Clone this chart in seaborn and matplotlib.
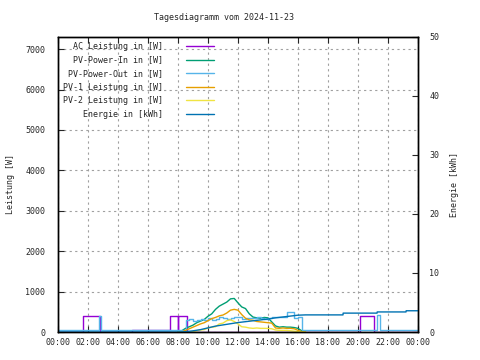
import matplotlib
matplotlib.use('Agg')
import matplotlib.pyplot as plt
import seaborn as sns

sns.set_style('ticks')
plt.rcParams['font.family'] = ['DejaVu Sans Mono']
plt.rcParams['font.size'] = 6

# --- data (hours of day, W / kWh) ---
ac_t = [0.0, 1.67, 2.80, 4.90, 7.47, 7.97, 8.03, 8.60, 20.13, 21.07, 24.0]
ac_w = [0, 400, 0, 40, 400, 40, 400, 0, 400, 0, 0]

day_t = [8.0, 8.25, 8.5, 8.75, 9.0, 9.25, 9.5, 9.75, 10.0, 10.25, 10.5, 10.75,
         11.0, 11.25, 11.5, 11.75, 12.0, 12.25, 12.5, 12.75, 13.0, 13.25, 13.5,
         13.75, 14.0, 14.25, 14.5, 14.75, 15.0, 15.25, 15.5, 15.75, 16.0, 16.25, 16.5]
pv_in_w = [0, 30, 90, 130, 170, 230, 270, 310, 390, 450, 560, 640,
           690, 740, 820, 830, 720, 620, 580, 450, 370, 350, 340,
           360, 350, 250, 150, 120, 130, 120, 120, 110, 90, 30, 0]
pv1_w = [0, 0, 40, 80, 120, 160, 200, 230, 280, 330, 360, 400,
         420, 470, 540, 560, 540, 430, 340, 300, 290, 260, 250,
         240, 230, 220, 100, 90, 100, 90, 90, 80, 40, 10, 0]
pv2_w = [0, 0, 0, 0, 10, 30, 50, 60, 100, 120, 130, 200,
         220, 280, 300, 260, 200, 130, 120, 100, 90, 100, 90,
         90, 90, 80, 50, 40, 40, 40, 30, 20, 10, 0, 0]

out_t = [0.0, 2.73, 2.87, 8.5, 8.75, 9.0, 9.25, 9.5, 9.75, 10.0, 10.25, 10.5,
         10.75, 11.0, 11.25, 11.5, 11.75, 12.0, 12.25, 12.5, 12.75, 13.0, 13.25,
         13.5, 13.75, 14.0, 14.25, 14.5, 14.75, 15.0, 15.25, 15.5, 15.75, 16.0,
         16.27, 21.27, 21.47, 24.0]
out_w = [60, 400, 60, 300, 320, 280, 300, 330, 290, 340, 300, 320,
         370, 350, 330, 340, 370, 360, 330, 350, 340, 350, 360,
         340, 330, 350, 360, 380, 370, 360, 500, 490, 340, 360,
         60, 420, 60, 60]

energy_t = [0.0, 8.0, 8.5, 9.0, 9.5, 10.0, 10.5, 11.0, 11.5, 12.0, 12.5, 13.0,
            13.5, 14.0, 14.5, 15.0, 15.5, 16.0, 16.5, 19.0, 19.01, 21.27, 21.28,
            23.2, 23.21, 24.0]
energy_kwh = [0, 0, 0.05, 0.2, 0.4, 0.7, 1.0, 1.2, 1.4, 1.6, 1.75, 1.9,
              2.05, 2.2, 2.4, 2.55, 2.7, 2.85, 2.9, 2.9, 3.2, 3.2, 3.4,
              3.4, 3.6, 3.6]

hour_ticks = [0, 2, 4, 6, 8, 10, 12, 14, 16, 18, 20, 22, 24]
hour_labels = ['00:00', '02:00', '04:00', '06:00', '08:00', '10:00', '12:00',
               '14:00', '16:00', '18:00', '20:00', '22:00', '00:00']

labels = ['AC Leistung in [W]', 'PV-Power-In in [W]', 'PV-Power-Out in [W]',
          'PV-1 Leistung in [W]', 'PV-2 Leistung in [W]', 'Energie in [kWh]']

c_ac, c_in, c_out = '#9400d3', '#009e73', '#56b4e9'
c_pv1, c_pv2, c_en = '#e69f00', '#f0e442', '#0072b2'

fig = plt.figure(figsize=(4.8, 3.6), dpi=100)
ax = fig.add_axes([58 / 480, 28 / 360, 360 / 480, 295 / 360])
ax2 = ax.twinx()

# monospace font: right-align legend texts by padding
width = max(len(s) for s in labels)
lab = [s.rjust(width) for s in labels]

lw = 1.0
sns.lineplot(x=ac_t, y=ac_w, drawstyle='steps-post', color=c_ac, lw=lw, ax=ax,
             label=lab[0])
sns.lineplot(x=day_t, y=pv_in_w, color=c_in, lw=lw, ax=ax, label=lab[1])
sns.lineplot(x=out_t, y=out_w, drawstyle='steps-post', color=c_out, lw=lw, ax=ax,
             label=lab[2])
sns.lineplot(x=day_t, y=pv1_w, color=c_pv1, lw=lw, ax=ax, label=lab[3])
sns.lineplot(x=day_t, y=pv2_w, color=c_pv2, lw=lw, ax=ax, label=lab[4])
sns.lineplot(x=energy_t, y=energy_kwh, color=c_en, lw=lw, ax=ax2, label=lab[5])

if ax.get_legend() is not None:
    ax.get_legend().remove()

ax.set_xlim(0, 24)
ax.set_ylim(0, 7300)
ax2.set_ylim(0, 50)
ax.set_xticks(hour_ticks)
ax.set_xticklabels(hour_labels)
ax.set_yticks([0, 1000, 2000, 3000, 4000, 5000, 6000, 7000])
ax2.set_yticks([0, 10, 20, 30, 40, 50])

ax.grid(True, color='#a0a0a0', linestyle=(0, (2, 3)), lw=0.8)
ax.tick_params(axis='x', direction='in', length=4, top=True, pad=4)
ax.tick_params(axis='y', direction='in', length=4, pad=9)
ax2.tick_params(axis='y', direction='in', length=4, pad=8)
for a in (ax, ax2):
    for s in a.spines.values():
        s.set_color('black')
        s.set_linewidth(1.0)

ax.set_ylabel('Leistung [W]')
ax2.set_ylabel('Energie [kWh]')
ax.yaxis.set_label_coords(-0.12, 0.5)
ax2.yaxis.set_label_coords(1.09, 0.5)
fig.text(223.5 / 480, 1 - 18 / 360, 'Tagesdiagramm vom 2024-11-23',
         ha='center', va='center', fontsize=6)

h1, l1 = ax.get_legend_handles_labels()
h2, l2 = ax2.get_legend_handles_labels()
leg = ax2.legend(h1 + h2, l1 + l2, loc='upper left', bbox_to_anchor=(0.0, 1.0),
                 frameon=False, markerfirst=False, handlelength=3.3,
                 handletextpad=2.8, labelspacing=0.55, borderaxespad=0.3,
                 borderpad=0.3, fontsize=6)

fig.savefig('out.png', dpi=100)
